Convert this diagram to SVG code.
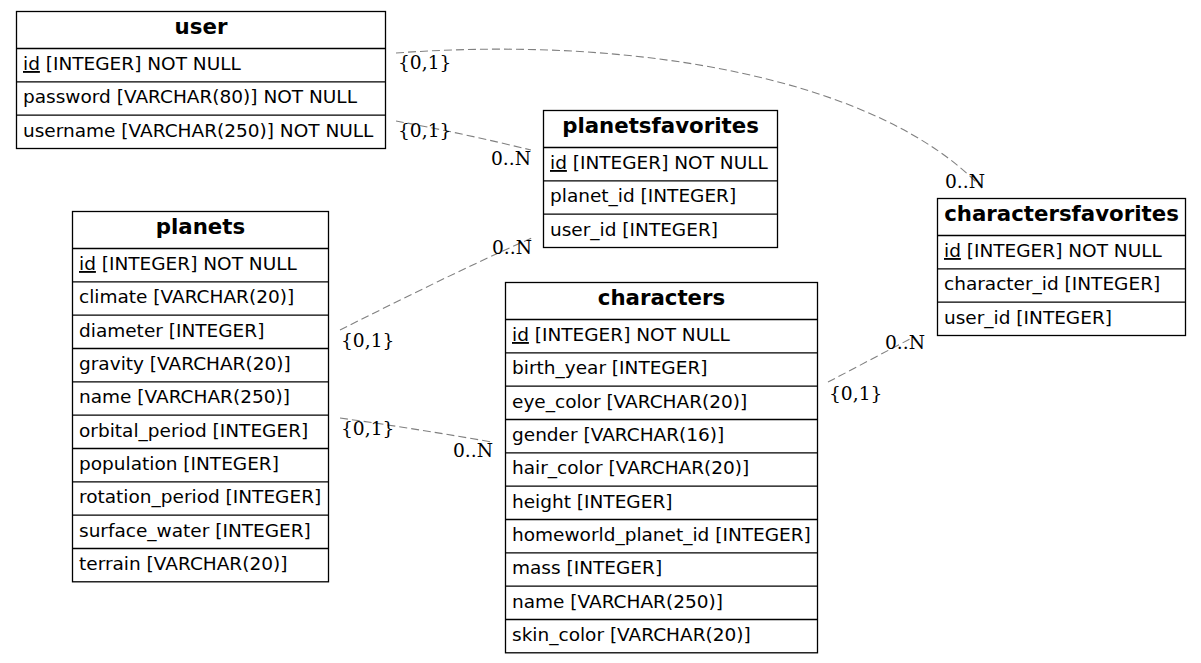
<svg xmlns="http://www.w3.org/2000/svg" width="1201" height="663" viewBox="0 0 1201 663">
<style>
.box{fill:#fff;stroke:#000;stroke-width:1.3}
.sep{stroke:#000;stroke-width:1.3}
.hd{font-family:"DejaVu Sans",sans-serif;font-weight:bold;font-size:21.3px;text-anchor:middle;fill:#000}
.rw{font-family:"DejaVu Sans",sans-serif;font-size:18.5px;fill:#000}
.edge{fill:none;stroke:#808080;stroke-width:1.1;stroke-dasharray:8,4}
.lb{font-family:"DejaVu Serif",serif;font-size:18.67px;fill:#000}
</style>
<rect width="1201" height="663" fill="#fff"/>
<g id="connectors">
<path class="edge" d="M396,53 C640,35 880,80 982,188"/>
<path class="edge" d="M396,121 C440,129 490,140 531,150"/>
<path class="edge" d="M340,330 C400,300 470,265 532,238"/>
<path class="edge" d="M340,418 C390,425 440,433 492,442"/>
<path class="edge" d="M828,382 C855,368 885,352 910,339"/>
<text class="lb" x="398" y="69">{0,1}</text>
<text class="lb" x="945" y="188">0..N</text>
<text class="lb" x="398" y="137">{0,1}</text>
<text class="lb" x="491" y="165">0..N</text>
<text class="lb" x="341" y="347">{0,1}</text>
<text class="lb" x="492" y="254">0..N</text>
<text class="lb" x="341" y="435">{0,1}</text>
<text class="lb" x="453" y="457">0..N</text>
<text class="lb" x="829" y="400">{0,1}</text>
<text class="lb" x="885" y="349">0..N</text>
</g>
<g id="user">
<rect class="box" x="16.5" y="11.5" width="369" height="137"/>
<line class="sep" x1="16.5" y1="48.5" x2="385.5" y2="48.5"/>
<line class="sep" x1="16.5" y1="81.8" x2="385.5" y2="81.8"/>
<line class="sep" x1="16.5" y1="115.2" x2="385.5" y2="115.2"/>
<text class="hd" x="201" y="34">user</text>
<text class="rw" x="23" y="70"><tspan text-decoration="underline">id</tspan> [INTEGER] NOT NULL</text>
<text class="rw" x="23" y="103.3">password [VARCHAR(80)] NOT NULL</text>
<text class="rw" x="23" y="136.7">username [VARCHAR(250)] NOT NULL</text>
</g>
<g id="planetsfavorites">
<rect class="box" x="543.5" y="110.5" width="234" height="137"/>
<line class="sep" x1="543.5" y1="147.5" x2="777.5" y2="147.5"/>
<line class="sep" x1="543.5" y1="180.8" x2="777.5" y2="180.8"/>
<line class="sep" x1="543.5" y1="214.2" x2="777.5" y2="214.2"/>
<text class="hd" x="660.5" y="133">planetsfavorites</text>
<text class="rw" x="550" y="169"><tspan text-decoration="underline">id</tspan> [INTEGER] NOT NULL</text>
<text class="rw" x="550" y="202.3">planet_id [INTEGER]</text>
<text class="rw" x="550" y="235.7">user_id [INTEGER]</text>
</g>
<g id="charactersfavorites">
<rect class="box" x="937.5" y="198.5" width="248" height="137"/>
<line class="sep" x1="937.5" y1="235.5" x2="1185.5" y2="235.5"/>
<line class="sep" x1="937.5" y1="268.8" x2="1185.5" y2="268.8"/>
<line class="sep" x1="937.5" y1="302.2" x2="1185.5" y2="302.2"/>
<text class="hd" x="1061.5" y="221">charactersfavorites</text>
<text class="rw" x="944" y="257"><tspan text-decoration="underline">id</tspan> [INTEGER] NOT NULL</text>
<text class="rw" x="944" y="290.3">character_id [INTEGER]</text>
<text class="rw" x="944" y="323.7">user_id [INTEGER]</text>
</g>
<g id="planets">
<rect class="box" x="72.5" y="211.5" width="256" height="370.3"/>
<line class="sep" x1="72.5" y1="248.5" x2="328.5" y2="248.5"/>
<line class="sep" x1="72.5" y1="281.8" x2="328.5" y2="281.8"/>
<line class="sep" x1="72.5" y1="315.2" x2="328.5" y2="315.2"/>
<line class="sep" x1="72.5" y1="348.5" x2="328.5" y2="348.5"/>
<line class="sep" x1="72.5" y1="381.8" x2="328.5" y2="381.8"/>
<line class="sep" x1="72.5" y1="415.2" x2="328.5" y2="415.2"/>
<line class="sep" x1="72.5" y1="448.5" x2="328.5" y2="448.5"/>
<line class="sep" x1="72.5" y1="481.8" x2="328.5" y2="481.8"/>
<line class="sep" x1="72.5" y1="515.2" x2="328.5" y2="515.2"/>
<line class="sep" x1="72.5" y1="548.5" x2="328.5" y2="548.5"/>
<text class="hd" x="200.5" y="234">planets</text>
<text class="rw" x="79" y="270"><tspan text-decoration="underline">id</tspan> [INTEGER] NOT NULL</text>
<text class="rw" x="79" y="303.3">climate [VARCHAR(20)]</text>
<text class="rw" x="79" y="336.7">diameter [INTEGER]</text>
<text class="rw" x="79" y="370">gravity [VARCHAR(20)]</text>
<text class="rw" x="79" y="403.3">name [VARCHAR(250)]</text>
<text class="rw" x="79" y="436.7">orbital_period [INTEGER]</text>
<text class="rw" x="79" y="470">population [INTEGER]</text>
<text class="rw" x="79" y="503.3">rotation_period [INTEGER]</text>
<text class="rw" x="79" y="536.7">surface_water [INTEGER]</text>
<text class="rw" x="79" y="570">terrain [VARCHAR(20)]</text>
</g>
<g id="characters">
<rect class="box" x="505.5" y="282.5" width="312" height="370.3"/>
<line class="sep" x1="505.5" y1="319.5" x2="817.5" y2="319.5"/>
<line class="sep" x1="505.5" y1="352.8" x2="817.5" y2="352.8"/>
<line class="sep" x1="505.5" y1="386.2" x2="817.5" y2="386.2"/>
<line class="sep" x1="505.5" y1="419.5" x2="817.5" y2="419.5"/>
<line class="sep" x1="505.5" y1="452.8" x2="817.5" y2="452.8"/>
<line class="sep" x1="505.5" y1="486.2" x2="817.5" y2="486.2"/>
<line class="sep" x1="505.5" y1="519.5" x2="817.5" y2="519.5"/>
<line class="sep" x1="505.5" y1="552.8" x2="817.5" y2="552.8"/>
<line class="sep" x1="505.5" y1="586.2" x2="817.5" y2="586.2"/>
<line class="sep" x1="505.5" y1="619.5" x2="817.5" y2="619.5"/>
<text class="hd" x="661.5" y="305">characters</text>
<text class="rw" x="512" y="341"><tspan text-decoration="underline">id</tspan> [INTEGER] NOT NULL</text>
<text class="rw" x="512" y="374.3">birth_year [INTEGER]</text>
<text class="rw" x="512" y="407.7">eye_color [VARCHAR(20)]</text>
<text class="rw" x="512" y="441">gender [VARCHAR(16)]</text>
<text class="rw" x="512" y="474.3">hair_color [VARCHAR(20)]</text>
<text class="rw" x="512" y="507.7">height [INTEGER]</text>
<text class="rw" x="512" y="541">homeworld_planet_id [INTEGER]</text>
<text class="rw" x="512" y="574.3">mass [INTEGER]</text>
<text class="rw" x="512" y="607.7">name [VARCHAR(250)]</text>
<text class="rw" x="512" y="641">skin_color [VARCHAR(20)]</text>
</g>
</svg>
